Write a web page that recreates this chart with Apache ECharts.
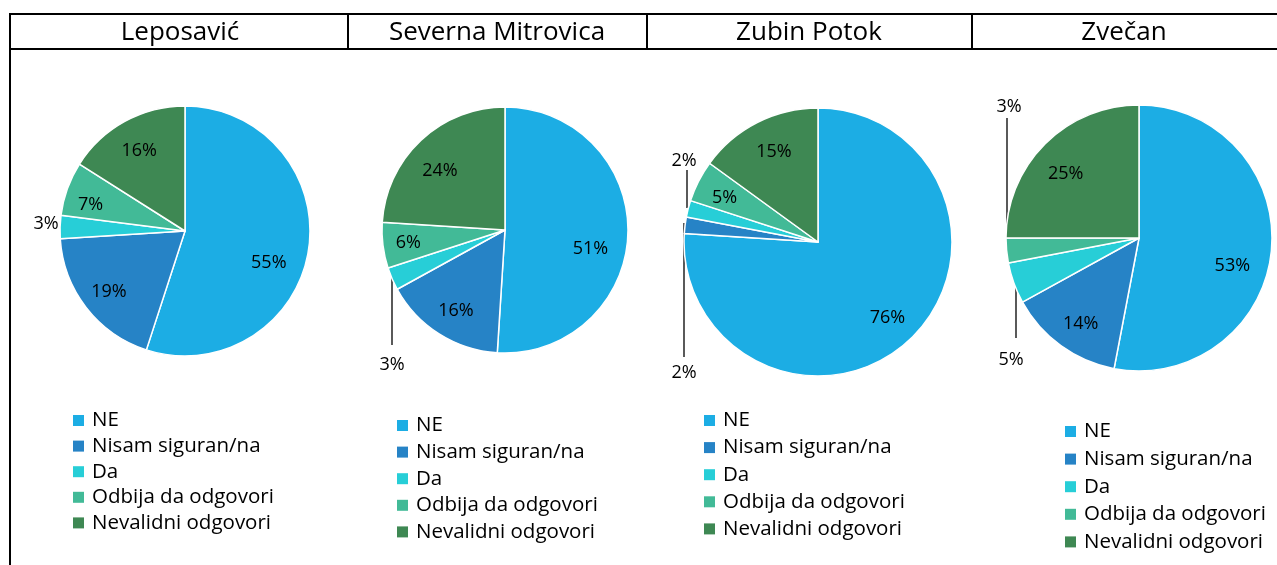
<!DOCTYPE html>
<html>
<head>
<meta charset="utf-8">
<title>Pies</title>
<script src="https://cdn.jsdelivr.net/npm/echarts@6/dist/echarts.min.js"></script>
<style>
  html, body { margin: 0; padding: 0; background: #fff; }
  #chart { width: 1277px; height: 565px; }
</style>
</head>
<body>
<div id="chart"></div>
<script>
const categories = ["NE", "Nisam siguran/na", "Da", "Odbija da odgovori", "Nevalidni odgovori"];
const municipalities = ["Leposavić", "Severna Mitrovica", "Zubin Potok", "Zvečan"];
const leposavic = [55, 19, 3, 7, 16];
const severnaMitrovica = [51, 16, 3, 6, 24];
const zubinPotok = [76, 2, 2, 5, 15];
const zvecan = [53, 14, 5, 3, 25];

const colors = ["#1cade4", "#2683c6", "#27ced7", "#42ba97", "#3e8853"];
const FONT = "Open Sans";

// per panel layout: pie centre / radius, legend spot, label tweaks (offsets from pie centre)
const panels = [
  {
    values: leposavic, center: [185, 231], r: 125,
    legend: { left: 73, top: 410, gap: 4.6 },
    nudge: { 0: [-10, 17], 1: [-1, 3], 3: [-5, 6], 4: [0, 3] },
    outside: { 2: { label: [-139, -7] } }
  },
  {
    values: severnaMitrovica, center: [505, 230], r: 123,
    legend: { left: 397, top: 415, gap: 5.6 },
    nudge: { 0: [-8, 16], 1: [1, 2], 3: [-4, 1], 4: [-1, 9] },
    outside: { 2: { label: [-113, 135], line: [[-113, 48], [-113, 115]] } }
  },
  {
    values: zubinPotok, center: [818, 242], r: 134,
    legend: { left: 704, top: 410, gap: 6.1 },
    nudge: { 0: [0, 2], 3: [-3, 2], 4: [2, 0] },
    outside: {
      1: { label: [-134, 131], line: [[-134, -19], [-134, 115]] },
      2: { label: [-134, -81], line: [[-131, -72], [-131, -34]] }
    }
  },
  {
    values: zvecan, center: [1139, 238], r: 133,
    legend: { left: 1065, top: 421, gap: 6.6 },
    nudge: { 0: [-7, 18], 1: [1, 4], 4: [-2, 7] },
    outside: {
      2: { label: [-128, 122], line: [[-123, 47], [-123, 100]] },
      3: { label: [-130, -131], line: [[-132, -120], [-132, 4]] }
    }
  }
];

function labelLayoutFor(p) {
  return function (params) {
    const i = params.dataIndex;
    const cx = p.center[0], cy = p.center[1];
    const o = p.outside[i];
    if (o) {
      const res = { x: cx + o.label[0], y: cy + o.label[1], align: "center", verticalAlign: "middle" };
      if (o.line) res.labelLinePoints = o.line.map(function (pt) { return [cx + pt[0], cy + pt[1]]; });
      return res;
    }
    // push the inside labels further out (library puts them at half radius)
    const rc = params.labelRect;
    const lx = rc.x + rc.width / 2, ly = rc.y + rc.height / 2;
    const n = p.nudge[i] || [0, 0];
    return {
      x: cx + (lx - cx) * 1.45 + n[0],
      y: cy + (ly - cy) * 1.45 + n[1],
      align: "center",
      verticalAlign: "middle"
    };
  };
}

const series = panels.map(function (p) {
  return {
    type: "pie",
    center: p.center,
    radius: p.r,
    startAngle: 90,
    clockwise: true,
    avoidLabelOverlap: false,
    animation: false,
    itemStyle: { borderColor: "#fff", borderWidth: 1.5 },
    label: {
      position: "inside",
      formatter: "{c}%",
      color: "#000",
      fontFamily: FONT,
      fontSize: 18
    },
    labelLine: { show: false, lineStyle: { color: "#000", width: 1.3 } },
    labelLayout: labelLayoutFor(p),
    emphasis: { disabled: true },
    data: categories.map(function (name, i) {
      const d = { name: name, value: p.values[i], itemStyle: { color: colors[i] } };
      const o = p.outside[i];
      if (o) {
        d.label = { position: "outside" };
        d.labelLine = { show: !!o.line, length: 10, length2: 10 };
      }
      return d;
    })
  };
});

const legends = panels.map(function (p) {
  return {
    orient: "vertical",
    left: p.legend.left,
    top: p.legend.top,
    padding: 0,
    itemGap: p.legend.gap,
    itemWidth: 11,
    itemHeight: 11,
    icon: "rect",
    selectedMode: false,
    itemStyle: { borderColor: "transparent", borderWidth: 0 },
    textStyle: { fontFamily: FONT, fontSize: 20.5, lineHeight: 20, color: "#000", padding: [0, 0, 0, 3] },
    data: categories
  };
});

// header box
const titleCentres = [180, 497, 809, 1124];
const dividers = [348, 647, 972];
const graphic = [
  { type: "line", shape: { x1: 10, y1: 14, x2: 1277, y2: 14 }, style: { stroke: "#000", lineWidth: 2 } },
  { type: "line", shape: { x1: 10, y1: 49, x2: 1277, y2: 49 }, style: { stroke: "#000", lineWidth: 2 } },
  { type: "line", shape: { x1: 10, y1: 13, x2: 10, y2: 565 }, style: { stroke: "#000", lineWidth: 2 } }
];
dividers.forEach(function (x) {
  graphic.push({ type: "line", shape: { x1: x, y1: 14, x2: x, y2: 49 }, style: { stroke: "#000", lineWidth: 2 } });
});
municipalities.forEach(function (name, i) {
  graphic.push({
    type: "text",
    x: titleCentres[i],
    y: 33,
    style: {
      text: name,
      fill: "#000",
      font: "26px '" + FONT + "'",
      textAlign: "center",
      textVerticalAlign: "middle"
    }
  });
});

const chart = echarts.init(document.getElementById("chart"), null, { renderer: "canvas" });
chart.setOption({
  animation: false,
  color: colors,
  legend: legends,
  graphic: graphic,
  series: series
});
</script>
</body>
</html>
